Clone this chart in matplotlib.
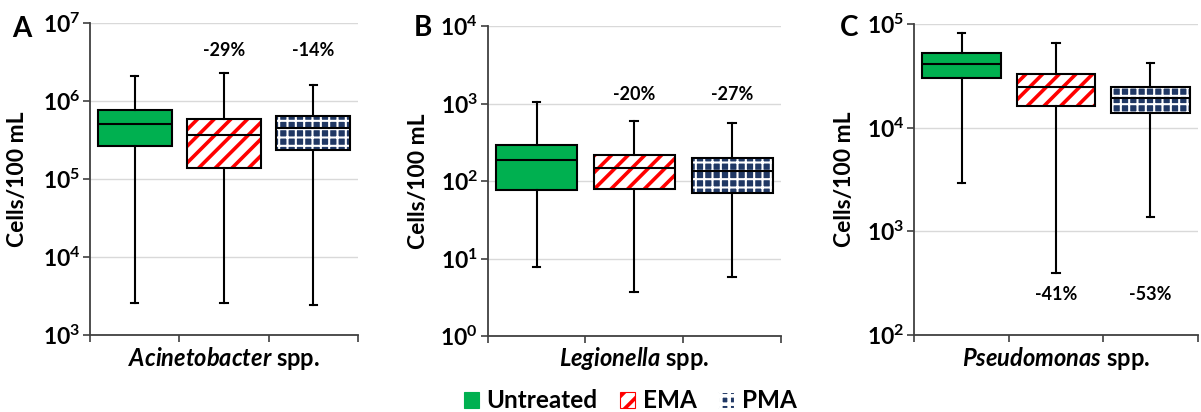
"""Box plots of Acinetobacter, Legionella and Pseudomonas counts, untreated vs EMA vs PMA."""

import math

import matplotlib

matplotlib.use("Agg")
import matplotlib.pyplot as plt
import matplotlib.ticker as mticker
from matplotlib.patches import Patch, PathPatch

plt.rcParams["font.family"] = ["Lato", "DejaVu Sans"]
plt.rcParams["font.weight"] = "bold"
plt.rcParams["mathtext.fontset"] = "custom"
plt.rcParams["mathtext.rm"] = "Lato:bold"
plt.rcParams["mathtext.bf"] = "Lato:bold"
plt.rcParams["mathtext.it"] = "Lato:italic:bold"
plt.rcParams["hatch.linewidth"] = 2.6

GROUPS = ["Untreated", "EMA", "PMA"]
PANELS = ["A", "B", "C"]
TAXA = ["Acinetobacter", "Legionella", "Pseudomonas"]

# [whisker low, q1, median, q3, whisker high]
ACI_UNTREATED = [2.6e3, 2.69e5, 5.15e5, 7.8e5, 2.12e6]
ACI_EMA = [2.6e3, 1.41e5, 3.7e5, 5.98e5, 2.33e6]
ACI_PMA = [2.4e3, 2.35e5, 4.5e5, 6.5e5, 1.6e6]
LEG_UNTREATED = [7.8, 76, 185, 292, 1035]
LEG_EMA = [3.7, 80, 149, 216, 594]
LEG_PMA = [5.8, 70, 135, 196, 555]
PSE_UNTREATED = [2.9e3, 3.0e4, 4.14e4, 5.2e4, 8.24e4]
PSE_EMA = [400, 1.63e4, 2.45e4, 3.27e4, 6.56e4]
PSE_PMA = [1.38e3, 1.38e4, 1.92e4, 2.45e4, 4.18e4]

ACI_CHANGE = ["-29%", "-14%"]
LEG_CHANGE = ["-20%", "-27%"]
PSE_CHANGE = ["-41%", "-53%"]

Y_DECADES = [(3, 7), (0, 4), (2, 5)]

# layout (figure pixels, 1201 x 412)
_W, _H = 1201, 412
_AXES_PX = [(90, 23.3, 358, 335), (487.7, 26, 781, 336), (914.3, 24, 1197.7, 335)]
_LETTER_PX = [(22, 29), (423, 28), (849, 28)]
_YLABEL_X = [18, 418, 845]
_CHANGE_Y = [4.5e6, 1.29e3, 244]

_FILL = {"Untreated": ("#00B050", None, None), "EMA": ("white", "//", "#FF0000"), "PMA": ("#203864", "++", "white")}
_BOX_W = 0.83
_LW = 1.5


def _style_box(ax, box, group):
    face, hatch, hcolor = _FILL[group]
    box.set_facecolor(face)
    if hatch:
        box.set_hatch(hatch)
        box.set_edgecolor(hcolor)
        box.set_linewidth(0)
        if hasattr(box, "set_hatch_linewidth"):
            box.set_hatch_linewidth(2.6 if group == "EMA" else 1.5)
        ax.add_patch(PathPatch(box.get_path(), transform=box.get_transform(), fill=False,
                               edgecolor="black", linewidth=_LW, zorder=2.5))
    else:
        box.set_edgecolor("black")
        box.set_linewidth(_LW)


def _panel(fig, idx, data, changes):
    x0, y0, x1, y1 = _AXES_PX[idx]
    ax = fig.add_axes([x0 / _W, 1 - y1 / _H, (x1 - x0) / _W, (y1 - y0) / _H])
    stats = [
        dict(whislo=v[0], q1=v[1], med=v[2], q3=v[3], whishi=v[4], label=g)
        for v, g in zip(data, GROUPS)
    ]
    lines = dict(color="black", linewidth=_LW)
    bp = ax.bxp(stats, positions=[1, 2, 3], widths=_BOX_W, showfliers=False, patch_artist=True,
                capwidths=0.08, whiskerprops=lines, capprops=lines,
                medianprops=dict(color="black", linewidth=_LW, zorder=3))
    for box, group in zip(bp["boxes"], GROUPS):
        _style_box(ax, box, group)

    lo, hi = Y_DECADES[idx]
    ax.set_yscale("log")
    ax.set_ylim(10**lo, 10**hi)
    ax.set_yticks([10**k for k in range(lo, hi + 1)])
    ax.yaxis.set_minor_locator(mticker.NullLocator())
    ax.yaxis.set_major_formatter(
        mticker.FuncFormatter(lambda v, _: r"$\mathbf{10^{%d}}$" % round(math.log10(v))))
    ax.yaxis.grid(True, color="#D9D9D9", linewidth=1)
    ax.set_axisbelow(True)

    ax.set_xlim(0.5, 3.5)
    ax.set_xticks([0.5, 1.5, 2.5, 3.5])
    ax.set_xticklabels([])
    ax.tick_params(axis="both", direction="out", length=5, width=1.2, color="#404040", labelsize=16.5)
    ax.tick_params(axis="y", pad=2)
    for side in ("top", "right"):
        ax.spines[side].set_visible(False)
    for side in ("left", "bottom"):
        ax.spines[side].set_color("#404040")
        ax.spines[side].set_linewidth(1.3)

    for pos, label in zip([2, 3], changes):
        ax.text(pos, _CHANGE_Y[idx], label, ha="center", va="center", fontsize=13, fontweight="bold")

    ax.text(0.5, -23 / (y1 - y0), r"$\mathit{%s}$ spp." % TAXA[idx], transform=ax.transAxes,
            ha="center", va="center", fontsize=17, fontweight="bold")
    lx, ly = _LETTER_PX[idx]
    fig.text(lx / _W, 1 - ly / _H, PANELS[idx], ha="center", va="center", fontsize=20, fontweight="bold")
    fig.text(_YLABEL_X[idx] / _W, 1 - (y0 + y1) / 2 / _H, "Cells/100 mL", rotation=90,
             ha="center", va="center", fontsize=16.5, fontweight="bold")
    return ax


def main():
    fig = plt.figure(figsize=(_W / 100, _H / 100), dpi=100)
    _panel(fig, 0, [ACI_UNTREATED, ACI_EMA, ACI_PMA], ACI_CHANGE)
    _panel(fig, 1, [LEG_UNTREATED, LEG_EMA, LEG_PMA], LEG_CHANGE)
    _panel(fig, 2, [PSE_UNTREATED, PSE_EMA, PSE_PMA], PSE_CHANGE)

    handles = []
    for group in GROUPS:
        face, hatch, hcolor = _FILL[group]
        handles.append(Patch(facecolor=face, hatch=hatch, edgecolor=hcolor or face, linewidth=0.8))
    fig.legend(handles, GROUPS, loc="center", bbox_to_anchor=(630 / _W, 1 - 401 / _H), ncol=3,
               frameon=False, fontsize=17.5, handlelength=0.65, handleheight=0.65,
               handletextpad=0.3, columnspacing=0.9)

    fig.savefig("out.png", dpi=100)
    plt.close(fig)


if __name__ == "__main__":
    main()
